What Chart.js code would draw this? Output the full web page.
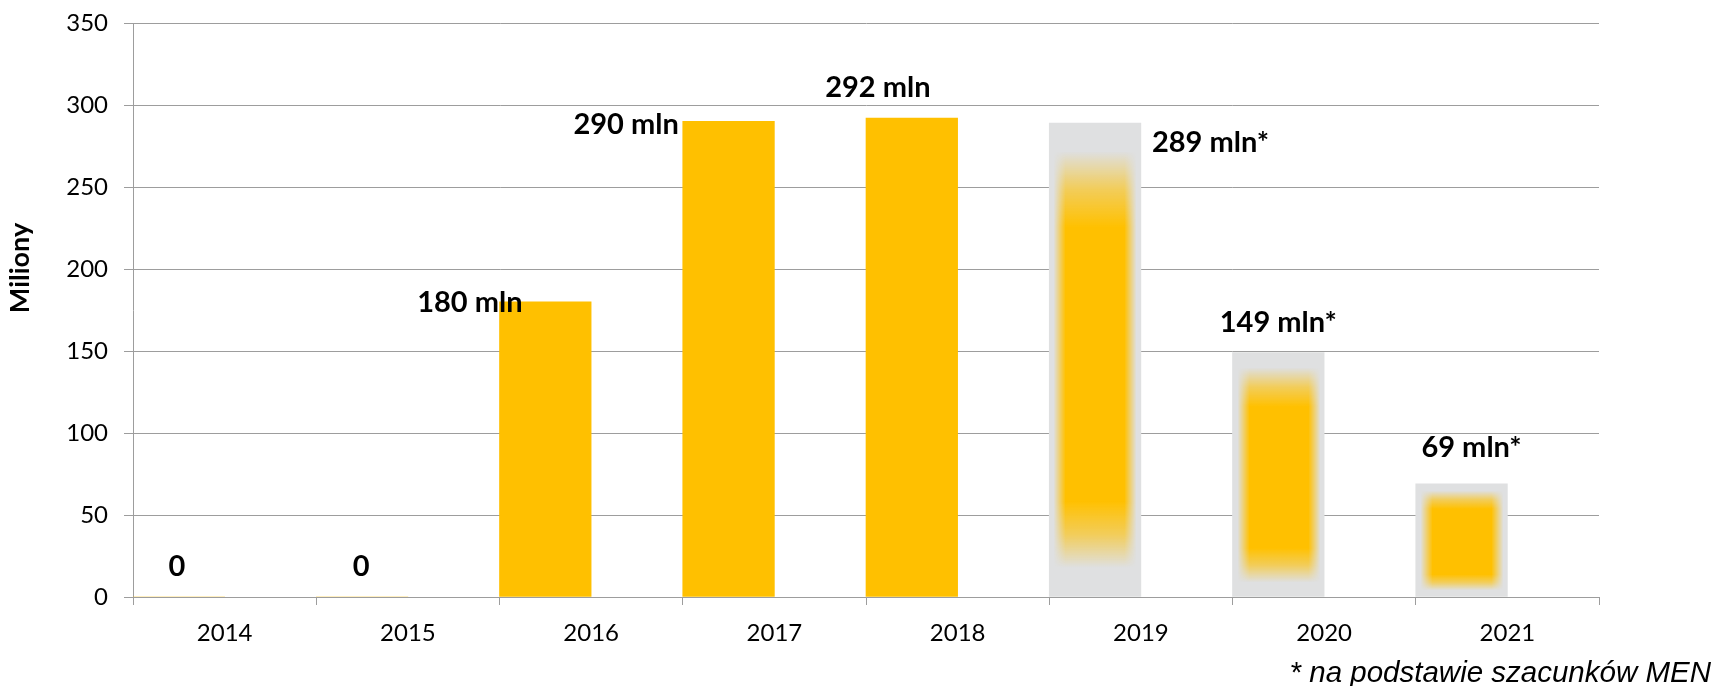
<!DOCTYPE html>
<html lang="pl">
<head>
<meta charset="utf-8">
<title>Miliony</title>
<script src="https://cdn.jsdelivr.net/npm/chart.js@4.4.1/dist/chart.umd.min.js"></script>
<style>
    html, body { margin: 0; padding: 0; background: #fff; }
    .wrap { position: relative; width: 1715px; height: 686px; overflow: hidden; }
    .note {
        position: absolute; right: 4px; top: 655px;
        font: italic 29.5px "Liberation Sans", Arial, sans-serif;
        color: #000; white-space: nowrap;
    }
</style>
</head>
<body>
<div class="wrap">
    <canvas id="chart" width="1715" height="686"></canvas>
    <div class="note">* na podstawie szacunków MEN</div>
</div>
<script>
// ============== DATA ==============
const years = ['2014', '2015', '2016', '2017', '2018', '2019', '2020', '2021'];
const values = [0, 0, 180, 290, 292, 289, 149, 69];
const estimated = [false, false, false, false, false, true, true, true];
const valueLabels = ['0', '0', '180 mln', '290 mln', '292 mln', '289 mln*', '149 mln*', '69 mln*'];
const yMin = 0;
const yMax = 350;
const yStep = 50;
const axisTitle = 'Miliony';

// label placement relative to each bar (Excel had them moved by hand)
const labelPlacement = [
    { align: 'center', dx: -2, dy: -30 },
    { align: 'center', dx: -1, dy: -30 },
    { align: 'right', dx: 23, dy: 1 },
    { align: 'right', dx: -4, dy: 3 },
    { align: 'center', dx: -34, dy: -30 },
    { align: 'left', dx: 11, dy: 20 },
    { align: 'center', dx: 0, dy: -30 },
    { align: 'center', dx: 10, dy: -36 }
];

const YELLOW = '#FFC000';
const GREY_BAR = '#dfe0e1';
const GRID = '#9d9d9d';
const tickFont = { family: 'Lato', size: 24 };

// Soft yellow centre on the estimated bars (Excel path gradient look)
function drawEstimateGlow(ctx, left, top, w, h) {
    const off = document.createElement('canvas');
    off.width = w;
    off.height = h;
    const o = off.getContext('2d');

    const gv = o.createLinearGradient(0, 0, 0, h);
    gv.addColorStop(0, 'rgba(255,192,0,0)');
    gv.addColorStop(0.06, 'rgba(255,192,0,0)');
    gv.addColorStop(0.14, 'rgba(255,192,0,0.6)');
    gv.addColorStop(0.22, 'rgba(255,192,0,1)');
    gv.addColorStop(0.8, 'rgba(255,192,0,1)');
    gv.addColorStop(0.87, 'rgba(255,192,0,0.6)');
    gv.addColorStop(0.94, 'rgba(255,192,0,0)');
    gv.addColorStop(1, 'rgba(255,192,0,0)');
    o.fillStyle = gv;
    o.fillRect(0, 0, w, h);

    o.globalCompositeOperation = 'destination-in';
    const gh = o.createLinearGradient(0, 0, w, 0);
    gh.addColorStop(0, 'rgba(0,0,0,0)');
    gh.addColorStop(0.05, 'rgba(0,0,0,0)');
    gh.addColorStop(0.18, 'rgba(0,0,0,1)');
    gh.addColorStop(0.82, 'rgba(0,0,0,1)');
    gh.addColorStop(0.95, 'rgba(0,0,0,0)');
    gh.addColorStop(1, 'rgba(0,0,0,0)');
    o.fillStyle = gh;
    o.fillRect(0, 0, w, h);

    ctx.drawImage(off, left, top);
}

const barExtras = {
    id: 'barExtras',
    afterDatasetsDraw(chart) {
        const ctx = chart.ctx;
        const bars = chart.getDatasetMeta(0).data;

        bars.forEach((bar, i) => {
            if (!estimated[i]) return;
            const { x, y, base, width } = bar.getProps(['x', 'y', 'base', 'width'], true);
            const left = Math.round(x - width / 2);
            const top = Math.round(y);
            drawEstimateGlow(ctx, left, top, Math.round(width), Math.round(base - y));
        });

        ctx.save();
        ctx.fillStyle = '#000';
        ctx.font = 'bold 29px Lato';
        ctx.textBaseline = 'middle';
        bars.forEach((bar, i) => {
            const { x, y, width } = bar.getProps(['x', 'y', 'width'], true);
            const p = labelPlacement[i];
            let ax = x;
            if (p.align === 'right') ax = x - width / 2;
            if (p.align === 'left') ax = x + width / 2;
            ctx.textAlign = p.align;
            ctx.fillText(valueLabels[i], ax + p.dx, y + p.dy);
        });

        // y axis title
        ctx.translate(20, 268);
        ctx.rotate(-Math.PI / 2);
        ctx.textAlign = 'center';
        ctx.font = 'bold 27px Lato';
        ctx.fillText(axisTitle, 0, 0);
        ctx.restore();
    }
};

const ctx = document.getElementById('chart').getContext('2d');
const chart = new Chart(ctx, {
    type: 'bar',
    data: {
        labels: years,
        datasets: [{
            data: values,
            backgroundColor: values.map((v, i) => estimated[i] ? GREY_BAR : YELLOW),
            borderWidth: 0
        }, {
            // empty slot, bars sit in the left half of each category
            data: years.map(() => null)
        }]
    },
    options: {
        responsive: false,
        animation: false,
        layout: { padding: { top: 23, right: 116, left: 0, bottom: 0 } },
        datasets: { bar: { categoryPercentage: 1, barPercentage: 1 } },
        plugins: {
            legend: { display: false },
            tooltip: { enabled: false }
        },
        scales: {
            x: {
                grid: {
                    drawOnChartArea: false,
                    drawTicks: true,
                    tickLength: 8,
                    color: GRID,
                    offset: true
                },
                border: { color: GRID },
                ticks: { color: '#000', font: tickFont, padding: 14, maxRotation: 0 },
                afterFit: scale => { scale.height = 89; }
            },
            y: {
                min: yMin,
                max: yMax,
                ticks: { stepSize: yStep, color: '#000', font: tickFont, padding: 16 },
                grid: { color: GRID, tickLength: 9 },
                border: { color: GRID },
                afterFit: scale => {
                    scale.width = 133;
                    scale.paddingTop = 0;
                    scale.paddingBottom = 0;
                }
            }
        }
    },
    plugins: [barExtras]
});
</script>
</body>
</html>
